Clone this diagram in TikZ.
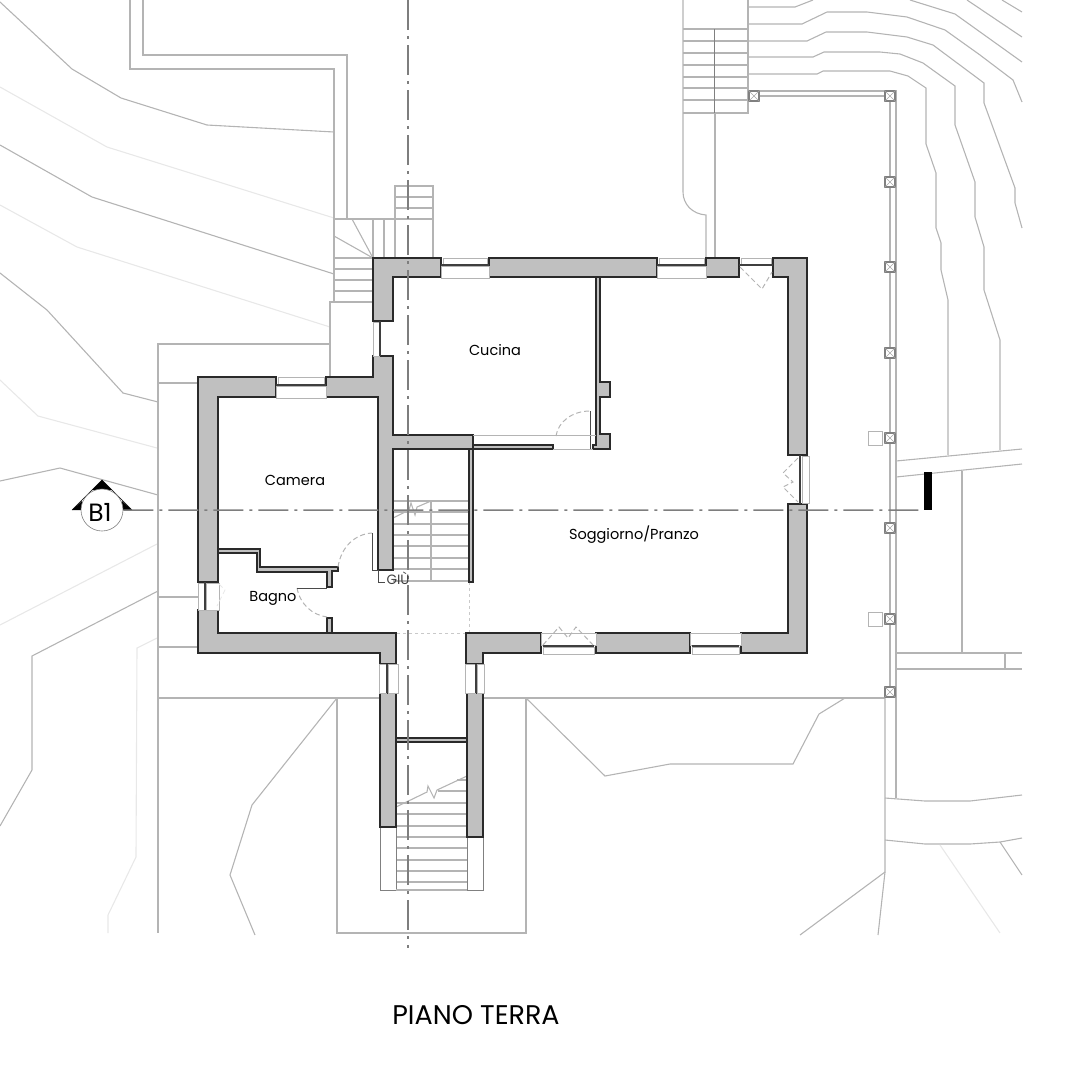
\documentclass[tikz,border=0pt]{standalone}
\usepackage{fontspec}
\setmainfont{Poppins}
\usetikzlibrary{calc}
\definecolor{wallgray}{HTML}{C0C0C0}
\definecolor{wallline}{HTML}{2A2A2A}
\definecolor{groundgray}{HTML}{B4B4B4}
\definecolor{faintgray}{HTML}{E8E8E8}
\definecolor{axisgray}{HTML}{7E7E7E}
\tikzset{
	wall/.style={fill=wallgray, draw=wallline, line width=1.3pt, line join=miter},
	ground/.style={draw=groundgray, line width=1.1pt},
	faint/.style={draw=faintgray, line width=1.1pt},
	thickground/.style={draw=groundgray, line width=2.8pt},
	glass/.style={fill=white, draw=groundgray, line width=0.8pt},
	pane/.style={draw=wallline!90, line width=1.7pt},
	swing/.style={draw=groundgray, line width=1pt, dash pattern=on 5pt off 3pt},
	leaf/.style={draw=wallline!85, line width=0.9pt},
	axis/.style={draw=axisgray, line width=1.5pt, dash pattern=on 30pt off 6pt on 3pt off 6pt},
	post/.style={draw=gray, fill=white, line width=1.3pt, minimum size=10pt, inner sep=0pt},
	plinth/.style={draw=groundgray, fill=white, line width=1pt, minimum size=14pt, inner sep=0pt},
	room/.style={font=\fontsize{14.5}{16}\selectfont, inner sep=0pt}
}
\begin{document}
\begin{tikzpicture}[x=1pt, y=-1pt]
	\useasboundingbox (0,0) rectangle (1092,1080);

	% terrain, west
	\draw[ground] (0,2) -- (72,69) -- (121,98) -- (207,125) -- (334,132);
	\draw[faint] (0,87) -- (107,147) -- (334,218);
	\draw[ground] (0,145) -- (92,197) -- (334,274);
	\draw[faint] (0,205) -- (77,247) -- (330,327);
	\draw[ground] (0,273) -- (47,310) -- (123,393) -- (158,402);
	\draw[faint] (0,380) -- (38,416) -- (157,448);
	\draw[ground] (0,481) -- (60,468) -- (158,495);
	\draw[faint] (0,625) -- (157,544);
	\draw[ground] (158,591) -- (32,656) -- (32,770) -- (0,826);
	\draw[faint] (157,638) -- (137,648) -- (136,857) -- (108,915) -- (108,933);

	% paths and terraces, west
	\draw[ground] (130,0) -- (130,69) -- (334,69) -- (334,302);
	\draw[ground] (143,0) -- (143,55) -- (347,55) -- (347,219);
	\draw[ground] (373,302) -- (330,302) -- (330,377);
	\draw[ground] (198,344) -- (158,344) -- (158,933);
	\draw[ground] (330,344) -- (158,344);
	\draw[ground] (158,383) -- (198,383);
	\draw[ground] (158,597) -- (198,597);
	\draw[ground] (158,647) -- (198,647);
	\draw[ground] (158,698) -- (380,698);
	\draw[ground] (483,698) -- (885,698);
	\draw[ground] (337,698) -- (252,805) -- (230,875) -- (255,935);
	\draw[ground] (337,698) -- (337,933) -- (526,933) -- (526,698);
	\draw[ground] (526,698) -- (605,776) -- (670,764) -- (793,764) -- (819,714) -- (845,698);

	% steps by the kitchen corner
	\draw[ground] (334,219) -- (433,219);
	\foreach \x in {373,384,395,433}
		\draw[ground] (\x,219) -- (\x,258);
	\draw[ground] (395,219) -- (395,186) -- (433,186) -- (433,219);
	\foreach \y in {197,208}
		\draw[ground] (395,\y) -- (433,\y);
	\foreach \y in {258,269,280,291}
		\draw[ground] (334,\y) -- (373,\y);
	\draw[ground] (352,219) -- (373,258);
	\draw[ground] (334,236) -- (373,258);

	% steps and drive, north
	\draw[ground] (748,0) -- (748,113) -- (683,113);
	\draw[ground] (683,0) -- (683,192) .. controls (683,204) and (692,214) .. (706,215) -- (706,258);
	\foreach \y in {29,41,53,65,77,88,100}
		\draw[ground] (683,\y) -- (748,\y);
	\draw[draw=gray, line width=0.7pt] (714,29) -- (714,113);
	\draw[thickground] (715,113) -- (715,258);

	% contours, east
	\draw[ground] (748,74) -- (817,74) -- (823,71) -- (890,71) -- (908,76) -- (926,88) -- (926,144) -- (936,173) -- (936,228) -- (941,243) -- (941,270) -- (948,300) -- (948,455);
	\draw[ground] (748,57) -- (813,57) -- (824,52) -- (880,52) -- (900,54) -- (923,63) -- (955,86) -- (955,125) -- (975,182) -- (975,217) -- (984,247) -- (984,290) -- (1000,340) -- (1000,450);
	\draw[ground] (748,41) -- (807,41) -- (826,32) -- (867,32) -- (907,37) -- (933,45) -- (984,83) -- (984,103) -- (1015,188) -- (1015,203) -- (1022,228);
	\draw[ground] (748,24) -- (802,24) -- (827,12) -- (867,12) -- (907,17) -- (945,30) -- (980,55) -- (1013,80) -- (1022,102);
	\draw[ground] (748,7) -- (795,7) -- (813,0);
	\draw[ground] (910,0) -- (955,14) -- (1022,62);
	\draw[ground] (967,0) -- (1022,37);
	\draw[ground] (1002,0) -- (1022,12);

	% terrace, east
	\draw[ground] (754,91) -- (896,91) -- (896,798);
	\draw[thickground] (754,96) -- (890,96) -- (890,692);
	\draw[ground] (896,461) -- (1022,449);
	\draw[ground] (896,477) -- (1022,464);
	\draw[ground] (962,471) -- (962,653);
	\draw[ground] (896,653) -- (1022,653);
	\draw[ground] (896,669) -- (1022,669);
	\draw[ground] (1005,653) -- (1005,669);
	\draw[ground] (885,692) -- (885,872) -- (800,935);
	\draw[ground] (885,872) -- (878,935);
	\draw[ground] (885,798) -- (925,801) -- (970,801) -- (1022,795);
	\draw[ground] (885,840) -- (925,844) -- (970,844) -- (1000,842) -- (1022,838);
	\draw[ground] (1000,842) -- (1022,875);
	\draw[faint] (940,845) -- (1000,933);

	\foreach \x/\y [count=\i] in {754/96,890/96,890/182,890/267,890/353,890/438,890/528,890/619,890/692} {
		\node[post] (post\i) at (\x,\y) {};
		\draw[gray!70, line width=0.5pt] (post\i.north west) -- (post\i.south east) (post\i.north east) -- (post\i.south west);
	}
	\node[plinth] (plinthA) at (875,438) {};
	\node[plinth] (plinthB) at (875,619) {};

	% stairs, inside
	\foreach \y in {501,512,524,535,546,558,569,581}
		\draw[ground] (393,\y) -- (469,\y);
	\draw[ground] (431,501) -- (431,581);
	\draw[ground] (393,518) -- (409,510) -- (411,503) -- (415,515) -- (417,507) -- (431,501);
	\draw[faintgray!70!gray, line width=0.8pt, dashed] (469,582) -- (469,633) -- (396,633);

	% stairs, south
	\foreach \y in {803,814,826,837,848,860,871,882}
		\draw[ground] (396,\y) -- (467,\y);
	\draw[ground] (438,791) -- (467,791);
	\draw[ground] (457,780) -- (467,780);
	\draw[ground] (396,807) -- (427,792) -- (428,786) -- (434,798) -- (437,790) -- (467,776);
	\draw[draw=gray, line width=1pt] (380,827) -- (380,890) -- (396,890) -- (396,827);
	\draw[draw=gray, line width=1pt] (467,837) -- (467,890) -- (483,890) -- (483,837);
	\draw[ground] (396,890) -- (467,890);

	% walls
	\draw[wall] (373,258) -- (441,258) -- (441,277) -- (393,277) -- (393,321) -- (373,321) -- cycle;
	\draw[wall] (373,356) -- (393,356) -- (393,435) -- (473,435) -- (473,449) -- (393,449) -- (393,570) -- (378,570) -- (378,397) -- (326,397) -- (326,377) -- (373,377) -- cycle;
	\draw[wall] (198,377) -- (276,377) -- (276,397) -- (218,397) -- (218,582) -- (198,582) -- cycle;
	\draw[wall] (198,610) -- (218,610) -- (218,633) -- (396,633) -- (396,664) -- (380,664) -- (380,653) -- (198,653) -- cycle;
	\draw[wall] (380,693) -- (396,693) -- (396,827) -- (380,827) -- cycle;
	\draw[wall] (467,693) -- (483,693) -- (483,837) -- (467,837) -- cycle;
	\draw[wall] (466,664) -- (466,633) -- (541,633) -- (541,653) -- (483,653) -- (483,664) -- cycle;
	\draw[wall] (596,633) -- (690,633) -- (690,653) -- (596,653) -- cycle;
	\draw[wall] (741,633) -- (788,633) -- (788,504) -- (807,504) -- (807,653) -- (741,653) -- cycle;
	\draw[wall] (489,258) -- (657,258) -- (657,277) -- (489,277) -- cycle;
	\draw[wall] (706,258) -- (739,258) -- (739,277) -- (706,277) -- cycle;
	\draw[wall] (773,258) -- (807,258) -- (807,455) -- (788,455) -- (788,277) -- (773,277) -- cycle;
	\draw[wall] (469,449) -- (473,449) -- (473,582) -- (469,582) -- cycle;
	\draw[wall] (473,445) -- (553,445) -- (553,449) -- (473,449) -- cycle;
	\draw[wall] (596,277) -- (600,277) -- (600,382) -- (610,382) -- (610,397) -- (600,397) -- (600,434) -- (610,434) -- (610,449) -- (593,449) -- (593,445) -- (596,445) -- cycle;
	\draw[wall] (218,549) -- (260,549) -- (260,567) -- (338,567) -- (338,571) -- (332,571) -- (332,587) -- (327,587) -- (327,572) -- (257,572) -- (257,553) -- (218,553) -- cycle;
	\draw[wall] (327,618) -- (332,618) -- (332,633) -- (327,633) -- cycle;
	\draw[wall] (396,738) -- (467,738) -- (467,742) -- (396,742) -- cycle;
	\draw[leaf] (378,570) -- (378,582) -- (385,582);

	% windows
	\foreach \xa/\xb/\ya/\yb/\yc in {441/489/258/265/278,657/706/258/265/278,276/326/377/385/398} {
		\draw[glass] (\xa+2,\ya) rectangle (\xb-2,\yb-1);
		\draw[glass] (\xa,\yb+1) rectangle (\xb,\yc);
		\draw[pane] (\xa,\yb) -- (\xb,\yb);
	}
	\foreach \xa/\xb in {541/596,690/741} {
		\draw[glass] (\xa,633) rectangle (\xb,645);
		\draw[glass] (\xa+2,647) rectangle (\xb-2,654);
		\draw[pane] (\xa+2,646) -- (\xb-2,646);
	}
	\draw[glass] (741,258) rectangle (771,264);
	\draw[pane] (739,265) -- (773,265);
	\draw[glass] (373,322) rectangle (379,356);
	\draw[pane] (380,321) -- (380,356);
	\draw[glass] (198,583) rectangle (205,610);
	\draw[glass] (206,583) rectangle (219,610);
	\draw[pane] (205,582) -- (205,610);
	\draw[glass] (379,664) rectangle (386,693);
	\draw[glass] (388,664) rectangle (398,693);
	\draw[pane] (387,664) -- (387,693);
	\draw[glass] (465,664) rectangle (475,693);
	\draw[glass] (477,664) rectangle (484,693);
	\draw[pane] (476,664) -- (476,693);
	\draw[glass] (802,456) rectangle (809,503);
	\draw[pane] (800,455) -- (800,504);

	% doors
	\draw[swing] (338,567) .. controls (341,547) and (355,534) .. (372,533);
	\draw[leaf] (372,533) -- (372,570) -- (378,570);
	\draw[swing] (297,588) .. controls (300,604) and (312,615) .. (327,617);
	\draw[leaf] (297,588) -- (327,588);
	\draw[swing] (556,436) .. controls (558,422) and (572,411) .. (590,411);
	\draw[leaf] (590,411) -- (590,449);
	\draw[ground, line width=0.7pt] (473,435) -- (596,435);
	\draw[ground, line width=0.7pt] (553,449) -- (593,449);
	\draw[swing] (740,267) -- (762,289) -- (772,272);
	\draw[swing] (798,458) -- (783,473) -- (793,482) -- (783,487) -- (798,502);
	\draw[swing] (543,645) -- (559,627) -- (568,638) -- (576,627) -- (593,645);
	\draw[draw=faintgray, dash pattern=on 5pt off 3pt, line width=0.8pt] (219,584) -- (225,590) -- (217,606);

	% section marks
	\draw[black, line width=0.4pt] (72,510) -- (102,480) -- (132,510);
	\fill[black] (72,510) -- (82,501) -- (83,510) -- cycle;
	\fill[black] (132,510) -- (122,501) -- (121,510) -- cycle;
	\fill[black] (102,480) -- (92,490) -- (112,490) -- cycle;
	\node[draw=gray, fill=white, circle, line width=0.6pt, minimum size=42pt, inner sep=0pt] (b1) at (102,510) {};
	\node[font=\fontsize{25}{28}\selectfont, inner sep=0pt] (b1label) at (100,512) {B1};
	\node[fill=black, inner sep=0pt, minimum width=8pt, minimum height=38pt] (cutend) at (928,491) {};
	\coordinate (axisw) at (b1.east);
	\coordinate (axise) at (cutend.south west);
	\coordinate (axisn) at (408,0);
	\coordinate (axiss) at (408,948);
	\draw[axis] (axisw) -- (axise);
	\draw[axis] (axisn) -- (axiss);

	\node[room] (cucina) at (495,350) {Cucina};
	\node[room] (camera) at (295,480) {Camera};
	\node[room] (bagno) at (273,598) {Bagno};
	\node[room] (soggiorno) at (634,535) {Soggiorno/Pranzo};
	\node[room, text=black!75, font=\fontsize{13.5}{15}\selectfont] (giu) at (398,578) {GIÙ};
	\node[inner sep=0pt, font=\fontsize{27}{30}\selectfont] (title) at (476,1015) {PIANO TERRA};
\end{tikzpicture}
\end{document}
